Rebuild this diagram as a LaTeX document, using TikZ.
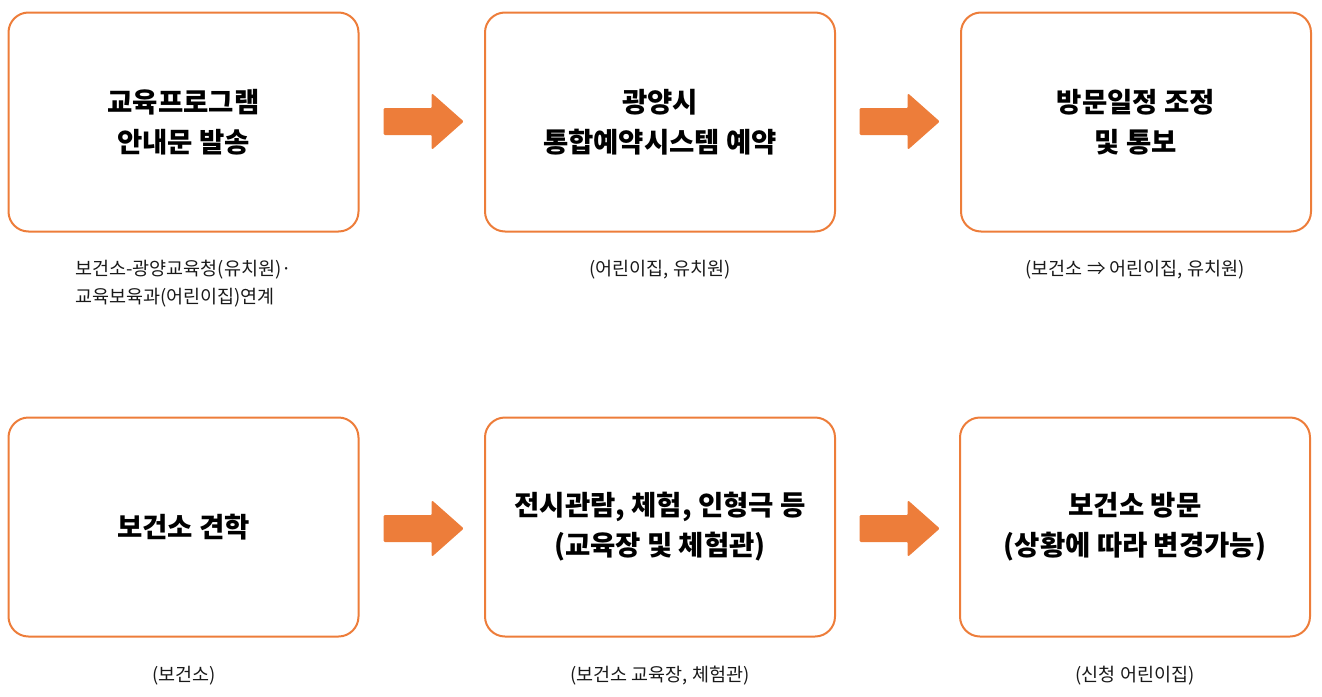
\documentclass[tikz,border=0pt]{standalone}
\usepackage{fontspec}
\setmainfont{Noto Sans CJK KR}
\definecolor{boxorange}{HTML}{ED7D3A}
\definecolor{arroworange}{HTML}{ED7D3A}
\begin{document}
\begin{tikzpicture}[x=1pt,y=-1pt,
  stepbox/.style={draw=boxorange,line width=2pt,rounded corners=20pt,minimum width=350pt,minimum height=219pt,inner sep=0pt,align=center,font=\fontsize{27.5}{40}\selectfont\bfseries},
  sublabel/.style={font=\fontsize{18.5}{28}\selectfont,text=black!90,inner sep=0pt},
  bigarrow/.style={fill=arroworange,draw=arroworange,line width=1pt,line join=round,rounded corners=1pt}]
\useasboundingbox (0,0) rectangle (1322,696);
\node[stepbox] (b1) at (183.5,122) {교육프로그램\\안내문 발송};
\node[stepbox] (b2) at (660,122) {광양시\\통합예약시스템 예약};
\node[stepbox] (b3) at (1136,122) {방문일정 조정\\및 통보};
\node[stepbox] (b4) at (183.5,527) {보건소 견학};
\node[stepbox] (b5) at (660,527) {전시관람, 체험, 인형극 등\\(교육장 및 체험관)};
\node[stepbox] (b6) at (1135,527) {보건소 방문\\(상황에 따라 변경가능)};
\node[sublabel,anchor=west,align=left] (s1) at (75,284) {보건소-광양교육청(유치원)·\\교육보육과(어린이집)연계};
\node[sublabel] (s2) at (660,270) {(어린이집, 유치원)};
\node[sublabel] (s3) at (1135,270) {(보건소 ⇒ 어린이집, 유치원)};
\node[sublabel] (s4) at (184,676) {(보건소)};
\node[sublabel] (s5) at (660,676) {(보건소 교육장, 체험관)};
\node[sublabel] (s6) at (1135,676) {(신청 어린이집)};
\foreach \ax/\ay in {384/121.5, 860/121.5, 384/528.5, 860/528.5}{
  \fill[bigarrow] (\ax,\ay-13) -- (\ax+48,\ay-13) -- (\ax+48,\ay-27.5) -- (\ax+79,\ay) -- (\ax+48,\ay+27.5) -- (\ax+48,\ay+13) -- (\ax,\ay+13) -- cycle;
}
\end{tikzpicture}
\end{document}
